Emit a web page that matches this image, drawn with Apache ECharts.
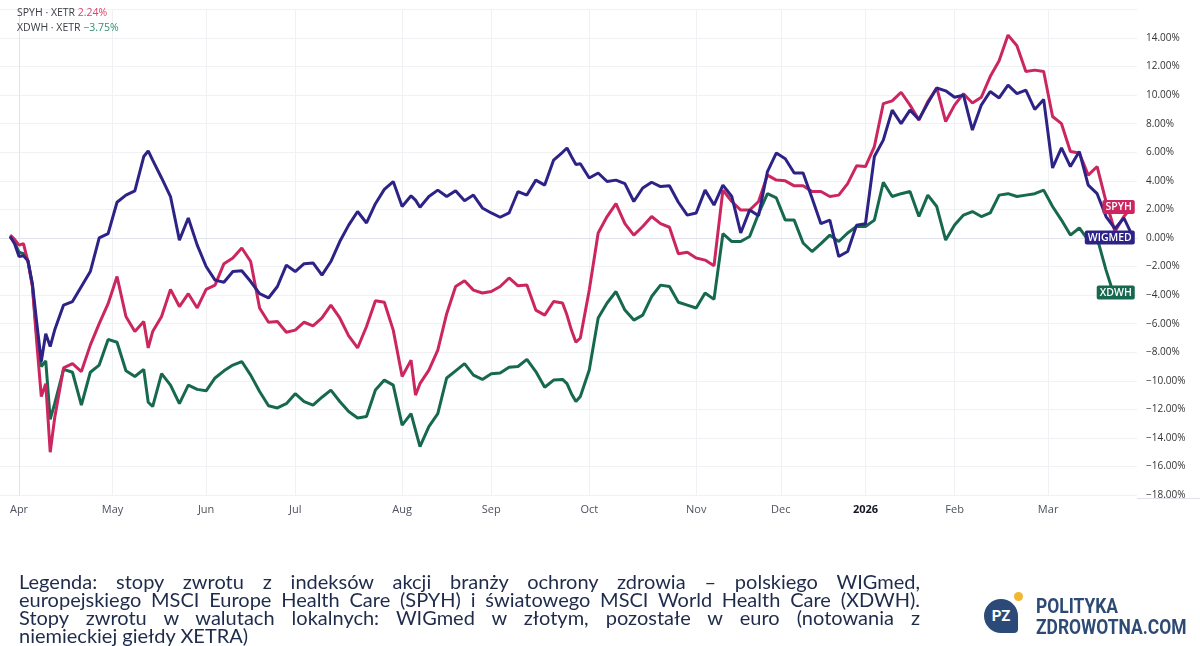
<!DOCTYPE html>
<html>
<head>
<meta charset="utf-8">
<title>WIGmed, SPYH, XDWH</title>
<script src="https://cdn.jsdelivr.net/npm/echarts@6/dist/echarts.min.js"></script>
<style>
  html, body { margin: 0; padding: 0; background: #fff; }
  #wrap { position: relative; width: 1200px; height: 646px; overflow: hidden; }
  #chart { position: absolute; left: 0; top: 0; width: 1200px; height: 646px; }
  .leg { position: absolute; left: 17px; font: 10.5px 'Open Sans', sans-serif; line-height: 14px; color: #3a3d45; white-space: nowrap; }
  #caption { position: absolute; left: 19px; top: 572px; width: 901px; font: 20px Lato, sans-serif; line-height: 18px; color: #1f2b4b; }
  #caption .jl { text-align: justify; text-align-last: justify; }
  #bubble { position: absolute; left: 984px; top: 599px; width: 34px; height: 34px; background: #2c4a78; border-radius: 50% 50% 12% 50%; color: #fff; font: bold 15px Roboto, sans-serif; line-height: 34px; text-align: center; }
  #dot { position: absolute; left: 1014px; top: 592px; width: 9px; height: 9px; border-radius: 50%; background: #f2b632; }
  .brand { position: absolute; left: 1036px; font: bold 21px Roboto, sans-serif; color: #2d4a75; transform: scaleX(0.83); transform-origin: left top; white-space: nowrap; line-height: 21px; }
</style>
</head>
<body>
<div id="wrap">
  <div id="chart"></div>
  <div class="leg" style="top:5px">SPYH · XETR <span style="color:#d4476f">2.24%</span></div>
  <div class="leg" style="top:20px">XDWH · XETR <span style="color:#2e9272">−3.75%</span></div>
  <div id="caption">
    <div class="jl">Legenda: stopy zwrotu z indeksów akcji branży ochrony zdrowia – polskiego WIGmed,</div>
    <div class="jl">europejskiego MSCI Europe Health Care (SPYH) i światowego MSCI World Health Care (XDWH).</div>
    <div class="jl">Stopy zwrotu w walutach lokalnych: WIGmed w złotym, pozostałe w euro (notowania z</div>
    <div>niemieckiej giełdy XETRA)</div>
  </div>
  <div id="bubble">PZ</div>
  <div id="dot"></div>
  <div class="brand" style="top:596px">POLITYKA</div>
  <div class="brand" style="top:617px">ZDROWOTNA.COM</div>
</div>
<script>
// session number, counted from the first session of April 2025
var days = [-2, -1, 0, 1, 2, 3, 4, 5, 6, 7, 8,
  10, 12, 14, 16, 18, 20, 22, 24, 26, 28, 29, 30, 32, 34, 36, 38, 40, 42, 44, 46, 48, 50,
  52, 54, 56, 58, 60, 62, 64, 66, 68, 70, 72, 74, 76, 78, 80, 82, 84, 86, 88, 89, 90, 92, 94, 96, 98, 100,
  102, 104, 106, 108, 110, 112, 114, 116, 118, 120, 122, 123, 124, 125, 126, 128, 130, 132, 134, 136, 138, 140,
  142, 144, 146, 148, 150, 152, 154, 156, 158, 160, 162, 164, 166, 168, 170, 172, 174, 176, 178, 180,
  182, 184, 186, 188, 190, 192, 194, 196, 198, 200, 202, 204, 206, 208, 210, 212, 214, 216, 218, 220,
  222, 224, 226, 228, 230, 232, 234, 236, 238, 240, 242, 244, 246, 248, 250];

var wigmed = [0.1, -0.4, -1.3, -1.25, -1.6, -3.2, -6.0, -8.65, -6.7, -7.6, -6.45,
  -4.7, -4.45, -3.4, -2.35, 0.0, 0.3, 2.5, 3.0, 3.3, 5.7, 6.1, 5.45, 4.2, 2.9, -0.15, 1.4, -0.5, -2.0, -2.95, -3.1, -2.35, -2.3,
  -3.05, -3.9, -4.2, -3.4, -1.9, -2.35, -1.8, -1.75, -2.6, -1.65, -0.25, 0.9, 1.85, 1.05, 2.4, 3.4, 3.95, 2.2, 2.95, 2.65, 2.15, 2.9, 3.35, 2.9, 3.3, 2.6,
  3.0, 2.1, 1.75, 1.45, 1.75, 3.25, 3.0, 4.05, 3.7, 5.45, 6.0, 6.3, 5.7, 5.15, 5.2, 4.2, 4.55, 3.95, 4.05, 3.8, 2.55, 3.5,
  3.9, 3.6, 3.65, 2.5, 1.6, 1.75, 3.35, 2.3, 3.7, 2.9, 0.35, 1.95, 1.55, 4.65, 5.95, 5.55, 4.55, 4.55, 2.8, 1.0,
  1.25, -1.3, -0.95, 0.9, 1.0, 5.7, 6.85, 8.95, 8.0, 8.95, 8.3, 9.45, 10.5, 10.3, 9.85, 10.0, 7.55, 9.3, 10.25, 9.8,
  10.7, 10.1, 10.35, 9.0, 9.7, 4.9, 6.3, 5.0, 6.05, 3.7, 3.1, 1.5, 0.65, 1.4, 0.1];

var spyh = [0.2, -0.1, -0.5, -0.4, -1.65, -3.4, -7.4, -11.1, -10.2, -15.0, -12.6,
  -9.1, -8.8, -9.35, -7.5, -6.0, -4.6, -2.7, -5.5, -6.55, -5.85, -7.7, -6.55, -5.5, -3.6, -4.8, -3.9, -4.9, -3.6, -3.3, -1.8, -1.4, -0.7,
  -1.65, -4.9, -5.9, -5.85, -6.6, -6.45, -5.9, -6.15, -5.6, -4.7, -5.6, -6.85, -7.7, -6.2, -4.4, -4.5, -6.45, -9.7, -8.55, -11.0, -10.2, -9.25, -7.85, -5.3, -3.4, -3.0,
  -3.65, -3.85, -3.75, -3.4, -2.8, -3.35, -3.3, -5.05, -5.4, -4.45, -4.55, -5.4, -6.45, -7.3, -7.0, -3.65, 0.35, 1.5, 2.4, 1.0, 0.2, 0.8,
  1.5, 1.0, 0.75, -1.1, -1.0, -1.4, -1.55, -1.95, 3.35, 2.55, 1.95, 1.95, 2.55, 4.4, 4.05, 4.0, 3.65, 3.65, 3.25, 3.25,
  2.9, 3.0, 3.8, 5.05, 5.0, 6.4, 9.4, 9.6, 10.2, 9.3, 8.25, 9.55, 10.5, 8.15, 9.3, 10.1, 9.45, 9.85, 11.3, 12.4,
  14.2, 13.45, 11.65, 11.75, 11.65, 8.5, 8.0, 6.05, 5.95, 4.4, 5.0, 2.55, 0.45, 1.5, 2.24];

var xdwh = [0.1, -0.3, -1.0, -1.1, -1.6, -3.3, -7.0, -9.0, -8.6, -12.7, -11.6,
  -9.2, -9.4, -11.7, -9.4, -8.9, -7.1, -7.3, -9.3, -9.7, -9.2, -11.5, -11.8, -9.5, -10.3, -11.6, -10.3, -10.6, -10.7, -9.8, -9.3, -8.9, -8.65,
  -9.6, -10.75, -11.75, -11.9, -11.6, -10.9, -11.45, -11.7, -11.15, -10.65, -11.45, -12.15, -12.6, -12.5, -10.65, -9.95, -10.3, -13.1, -12.3, -13.45, -14.6, -13.2, -12.3, -9.8, -9.3, -8.8,
  -9.6, -9.9, -9.5, -9.45, -9.05, -9.0, -8.5, -9.35, -10.45, -9.95, -9.9, -10.2, -10.9, -11.45, -11.1, -9.25, -5.6, -4.55, -3.75, -5.05, -5.75, -5.4,
  -4.1, -3.3, -3.4, -4.5, -4.7, -4.9, -3.85, -4.3, 0.3, -0.25, -0.25, 0.1, 1.7, 3.1, 2.8, 1.25, 1.25, -0.35, -0.95, -0.4,
  0.2, -0.25, 0.35, 0.8, 0.8, 1.25, 3.9, 2.9, 3.1, 3.25, 1.5, 3.0, 2.2, -0.15, 0.9, 1.6, 1.85, 1.5, 1.75, 3.0,
  3.1, 2.9, 3.0, 3.1, 3.35, 2.2, 1.25, 0.2, 0.7, -0.15, 0.0, -2.25, -4.2, -3.5, -3.75];

// first session of each month and its label
var monthDays = [0, 21, 42, 62, 86, 106, 128, 152, 171, 190, 210, 231];
var monthNames = ['Apr', 'May', 'Jun', 'Jul', 'Aug', 'Sep', 'Oct', 'Nov', 'Dec', '2026', 'Feb', 'Mar'];

var yTicks = [-18, -16, -14, -12, -10, -8, -6, -4, -2, 0, 2, 4, 6, 8, 10, 12, 14, 16];

var colWig = '#2d2386';
var colSpyh = '#cc2660';
var colXdwh = '#16694f';

function pairs(vals) {
    return days.map(function (d, i) { return [d, vals[i]]; });
}

function lineSeries(name, color, vals) {
    return {
        name: name,
        type: 'line',
        data: pairs(vals),
        showSymbol: false,
        symbol: 'none',
        lineStyle: { color: color, width: 3 },
        itemStyle: { color: color },
        endLabel: {
            show: true,
            formatter: name,
            align: 'right',
            distance: 0,
            offset: [2, 1],
            color: '#fff',
            backgroundColor: color,
            padding: [2, 3, 1, 3],
            borderRadius: 2,
            fontSize: 10.5,
            fontWeight: 600,
            fontFamily: 'Open Sans'
        }
    };
}

var chart = echarts.init(document.getElementById('chart'));

var option = {
    animation: false,
    backgroundColor: '#fff',
    grid: { left: 0, right: 63, top: 9.4, bottom: 150.9, containLabel: false },
    xAxis: {
        type: 'value',
        min: -4.27,
        max: 250.95,
        offset: 3,
        axisLine: { show: true, lineStyle: { color: '#e0e3eb' } },
        axisTick: { show: false, customValues: monthDays },
        axisLabel: {
            customValues: monthDays,
            margin: 6,
            color: '#4c525e',
            fontSize: 11,
            fontFamily: 'Open Sans',
            formatter: function (v) {
                var name = monthNames[monthDays.indexOf(v)];
                return name === '2026' ? '{y|' + name + '}' : name;
            },
            rich: { y: { fontWeight: 'bold', color: '#131722', fontSize: 11, fontFamily: 'Open Sans' } }
        },
        splitLine: { show: true, lineStyle: { color: '#f0f1f4' } }
    },
    yAxis: {
        type: 'value',
        position: 'right',
        min: -18,
        max: 16,
        interval: 2,
        axisLine: { show: true, lineStyle: { color: '#e0e3eb' } },
        axisTick: { show: false },
        axisLabel: {
            showMaxLabel: false,
            margin: 9,
            color: '#333',
            fontSize: 10,
            fontFamily: 'Open Sans',
            formatter: function (v) {
                return (v < 0 ? '−' : '') + Math.abs(v).toFixed(2) + '%';
            }
        },
        splitLine: {
            lineStyle: {
                color: yTicks.map(function (t) { return t === 0 ? '#b8b8bc' : '#f0f1f4'; })
            }
        }
    },
    graphic: [
        { type: 'line', shape: { x1: 1137, y1: 498.5, x2: 1200, y2: 498.5 }, style: { stroke: '#e0e3eb', lineWidth: 1 }, z: 101 }
    ],
    series: [
        lineSeries('XDWH', colXdwh, xdwh),
        lineSeries('SPYH', colSpyh, spyh),
        lineSeries('WIGMED', colWig, wigmed)
    ]
};

chart.setOption(option);
</script>
</body>
</html>
